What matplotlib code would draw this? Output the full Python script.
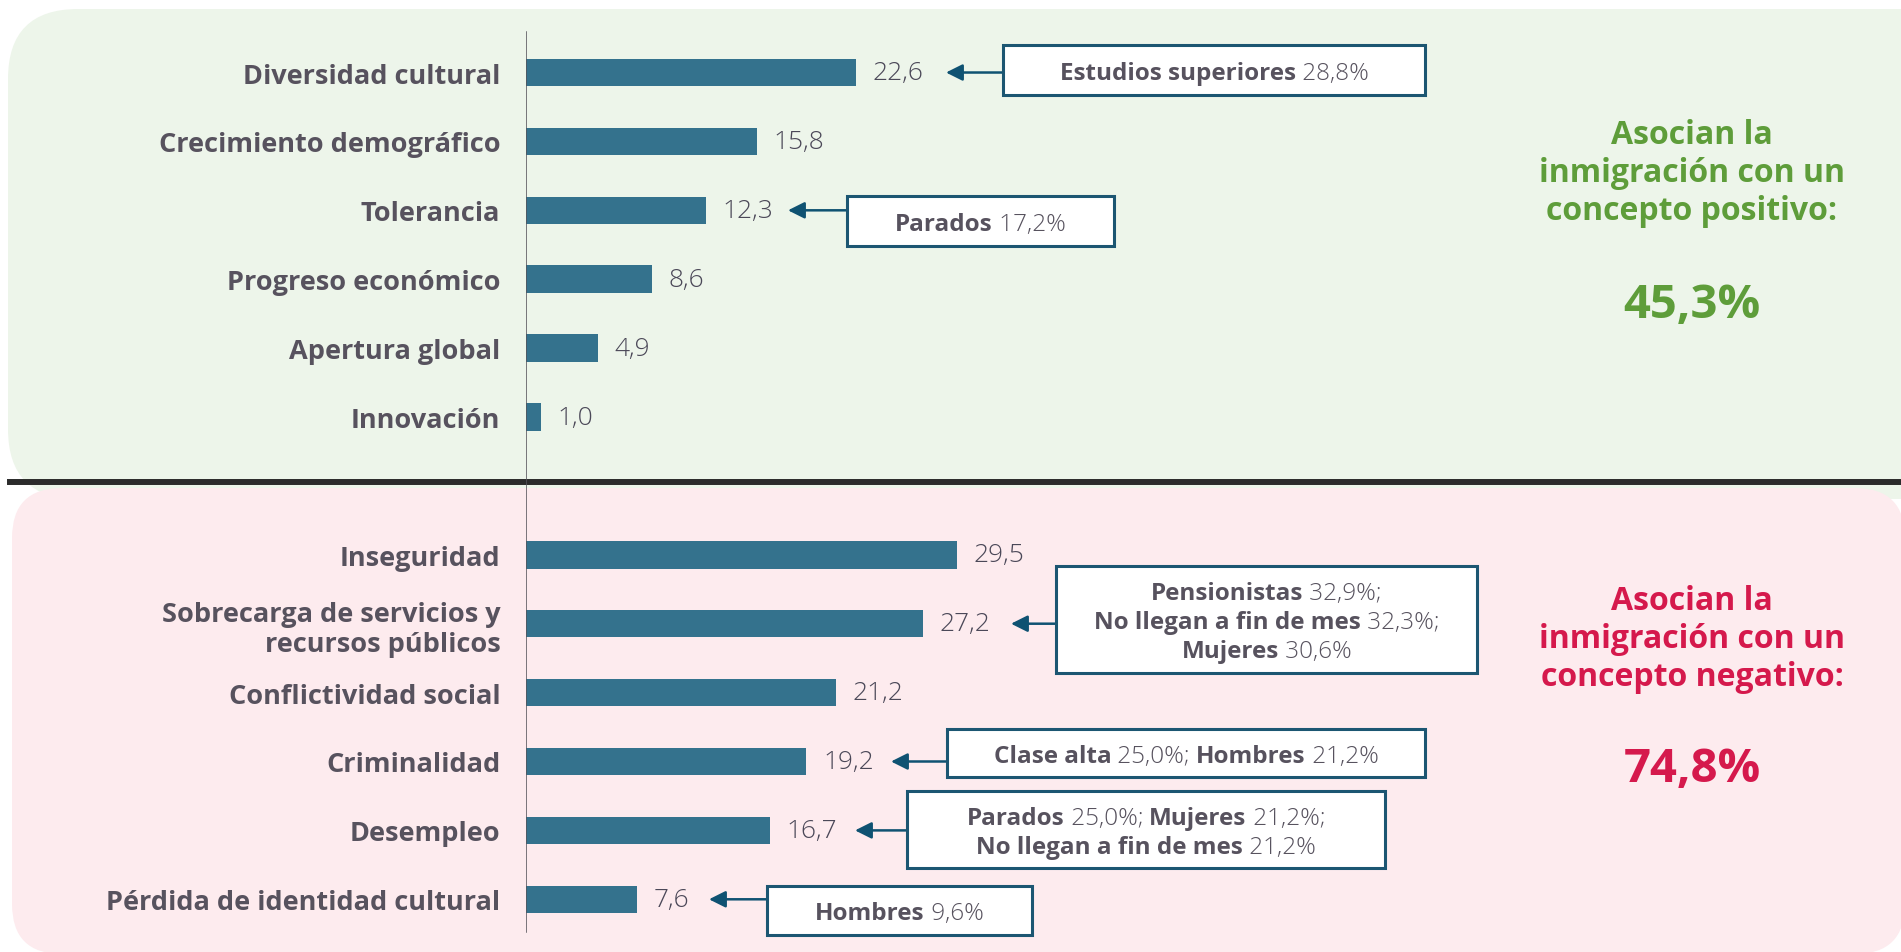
import matplotlib.pyplot as plt
from matplotlib.patches import FancyBboxPatch, Rectangle
from matplotlib.lines import Line2D
from matplotlib.transforms import Affine2D, blended_transform_factory

# data
top_labels = ['Diversidad cultural', 'Crecimiento demográfico', 'Tolerancia',
              'Progreso económico', 'Apertura global', 'Innovación']
top_values = [22.6, 15.8, 12.3, 8.6, 4.9, 1.0]
bottom_labels = ['Inseguridad', 'Sobrecarga de servicios y\nrecursos públicos',
                 'Conflictividad social', 'Criminalidad', 'Desempleo',
                 'Pérdida de identidad cultural']
bottom_values = [29.5, 27.2, 21.2, 19.2, 16.7, 7.6]

note_labels = ['Diversidad cultural', 'Tolerancia',
               'Sobrecarga de servicios y\nrecursos públicos',
               'Criminalidad', 'Desempleo', 'Pérdida de identidad cultural']
note_texts = [
    [[('Estudios superiores', True), (' 28,8%', False)]],
    [[('Parados', True), (' 17,2%', False)]],
    [[('Pensionistas', True), (' 32,9%;', False)],
     [('No llegan a fin de mes', True), (' 32,3%;', False)],
     [('Mujeres', True), (' 30,6%', False)]],
    [[('Clase alta', True), (' 25,0%; ', False), ('Hombres', True), (' 21,2%', False)]],
    [[('Parados', True), (' 25,0%; ', False), ('Mujeres', True), (' 21,2%;', False)],
     [('No llegan a fin de mes', True), (' 21,2%', False)]],
    [[('Hombres', True), (' 9,6%', False)]],
]
pos_title = 'Asocian la\ninmigración con un\nconcepto positivo:'
pos_total = '45,3%'
neg_title = 'Asocian la\ninmigración con un\nconcepto negativo:'
neg_total = '74,8%'

# style
FONT = 'Open Sans'
bar_color = '#34728d'
label_color = '#57525e'
value_color = '#4b4858'
navy = '#0f5272'
green = '#5e9d3a'
red = '#d5194c'

W, H = 1901, 953
fig = plt.figure(figsize=(W / 100, H / 100), dpi=100)
px = Affine2D().scale(1 / W, -1 / H).translate(0, 1) + fig.transFigure

# backgrounds
fig.add_artist(FancyBboxPatch((8, 10), 1990, 490, boxstyle='round,pad=0,rounding_size=70',
                              transform=px, fc='#edf5ea', ec='none', zorder=-3))
fig.add_artist(FancyBboxPatch((12, 489), 1893, 466, boxstyle='round,pad=0,rounding_size=50',
                              transform=px, fc='#fdebee', ec='none', zorder=-2))
fig.add_artist(Line2D([10, 1901], [483, 483], transform=px, color='#2b2b2b', lw=4.3, zorder=-1))

ax = fig.add_axes([526 / W, 0, 1 - 526 / W, 1])
ax.set_facecolor('none')

top_rows = list(range(len(top_values)))
bottom_rows = list(range(len(top_values) + 1, len(top_values) + 1 + len(bottom_values)))
rows = top_rows + bottom_rows
values = top_values + bottom_values
labels = top_labels + bottom_labels

ax.barh(rows, values, height=0.4, color=bar_color)
ax.set_xlim(0, 1375 / 14.6)
ax.set_ylim(12.765, -1.067)
ax.set_xticks([])
ax.set_yticks(rows, labels)
ax.tick_params(axis='y', length=0, pad=18.5, labelsize=19.5, labelcolor=label_color)
for t in ax.get_yticklabels():
    t.set_fontweight('bold')
    t.set_fontfamily(FONT)
    t.set_linespacing(1.2)
for s in ax.spines.values():
    s.set_visible(False)
ax.axvline(0, ymin=1 - 933 / H, ymax=1 - 33 / H, color='#55535a', lw=1.1)

for r, v in zip(rows, values):
    ax.annotate(f'{v:.1f}'.replace('.', ','), (v, r), xytext=(12, 0), textcoords='offset points',
                va='center', ha='left', fontsize=19, color=value_color,
                fontfamily=FONT, fontweight='light')

# annotation boxes: (left, top, right, bottom, arrow tip x)
boxes = [(1003, 46, 1425, 96, 946),
         (847, 197, 1114, 247, 788),
         (1056, 567, 1477, 674, 1011),
         (947, 730, 1425, 778, 891),
         (907, 792, 1385, 869, 855),
         (767, 887, 1032, 936, 709)]

renderer = fig.canvas.get_renderer()
blend = blended_transform_factory(px, ax.transData)
box_size = 17.5
line_gap = 29


def rich_line(xc, yc, pieces, size):
    objs = []
    for s, bold in pieces:
        t = fig.text(0, yc + 0.36 * size * 100 / 72, s, transform=px, fontsize=size,
                     fontfamily=FONT, fontweight='bold' if bold else 'light',
                     color=label_color, va='baseline', ha='left', zorder=6)
        objs.append(t)
    widths = [t.get_window_extent(renderer).width for t in objs]
    x = xc - sum(widths) / 2
    for t, w in zip(objs, widths):
        t.set_x(x)
        x += w


for name, note, (l, t, r, b, tip) in zip(note_labels, note_texts, boxes):
    row = rows[labels.index(name)]
    fig.add_artist(Rectangle((l, t), r - l, b - t, transform=px, fc='white',
                             ec='#1c5672', lw=2.2, zorder=5))
    ax.annotate('', xy=(tip, row), xytext=(l, row), xycoords=blend, textcoords=blend,
                arrowprops=dict(arrowstyle='-|>,head_length=1.0,head_width=0.5',
                                color=navy, lw=1.8, shrinkA=0, shrinkB=0))
    yc = (t + b) / 2 - (len(note) - 1) * line_gap / 2
    for i, line in enumerate(note):
        rich_line((l + r) / 2, yc + i * line_gap, line, box_size)

# side texts
fig.text(1692, 174, pos_title, transform=px, ha='center', va='center', fontsize=23,
         fontweight='bold', color=green, fontfamily=FONT, linespacing=1.2)
fig.text(1692, 306, pos_total, transform=px, ha='center', va='center', fontsize=34,
         fontweight='bold', color=green, fontfamily=FONT)
fig.text(1692, 640, neg_title, transform=px, ha='center', va='center', fontsize=23,
         fontweight='bold', color=red, fontfamily=FONT, linespacing=1.2)
fig.text(1692, 770, neg_total, transform=px, ha='center', va='center', fontsize=34,
         fontweight='bold', color=red, fontfamily=FONT)

fig.savefig('out.png', dpi=100)
